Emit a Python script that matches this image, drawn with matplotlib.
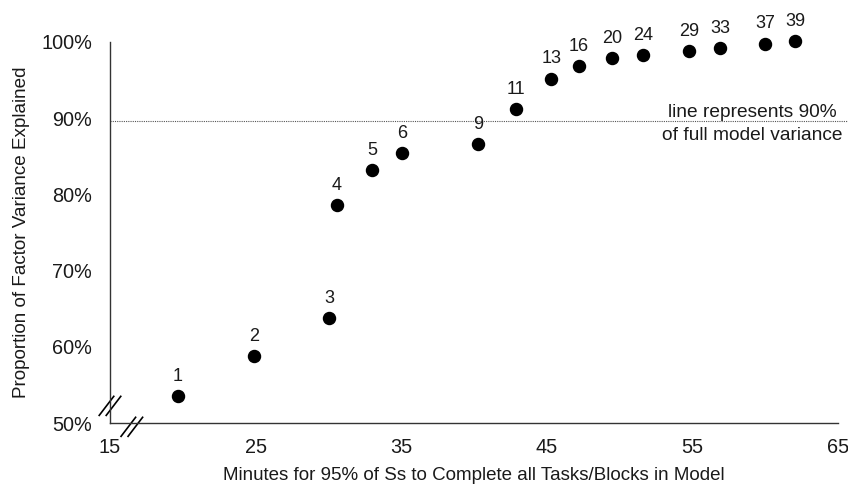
import matplotlib
matplotlib.use("Agg")
import matplotlib.pyplot as plt
import matplotlib.transforms as mtransforms
import numpy as np

plt.rcParams['font.family'] = ['Liberation Sans', 'DejaVu Sans']

# number of tasks/blocks in model (point labels)
n_blocks = [1, 2, 3, 4, 5, 6, 9, 11, 13, 16, 20, 24, 29, 33, 37, 39]
# minutes for 95% of Ss to complete
minutes = [19.67, 24.9, 30.06, 30.6, 33.0, 35.05, 40.3, 42.9, 45.3, 47.2,
           49.5, 51.6, 54.8, 56.9, 60.0, 62.05]
# proportion of factor variance explained (%)
variance = [53.5, 58.8, 63.8, 78.6, 83.2, 85.4, 86.6, 91.2, 95.2, 96.85,
            97.9, 98.3, 98.8, 99.2, 99.8, 100.1]

xticks = [15, 25, 35, 45, 55, 65]
yticks = [50, 60, 70, 80, 90, 100]
ref_line = 89.6

fig = plt.figure(figsize=(8.48, 4.86), dpi=100)
ax = fig.add_axes([0.1297, 0.1296, 0.8585, 0.7840])

ax.scatter(minutes, variance, s=75, color='black', zorder=3, clip_on=False)
for x, y, n in zip(minutes, variance, n_blocks):
    ax.annotate(str(n), (x, y), xytext=(0, 8), textcoords='offset points',
                ha='center', va='bottom', fontsize=13, color='#1a1a1a',
                annotation_clip=False)

# dotted reference line
ax.axhline(ref_line, xmin=0, xmax=1.013, color='#555555', lw=0.8,
           linestyle=(0, (1, 1)), clip_on=False, zorder=1)
ax.text(0.998, ref_line + 0.6, 'line represents 90%', ha='right', va='baseline',
        fontsize=13.8, color='#1a1a1a', transform=ax.get_yaxis_transform())
ax.text(1.006, ref_line - 2.4, 'of full model variance', ha='right', va='baseline',
        fontsize=13.8, color='#1a1a1a', transform=ax.get_yaxis_transform())

ax.set_xlim(15, 65)
ax.set_ylim(50, 100)
ax.set_xticks(xticks)
ax.set_yticks(yticks)
ax.set_yticklabels([f'{v}%' for v in yticks])
ax.tick_params(length=0, labelsize=14.3, colors='#1a1a1a')
ax.tick_params(axis='y', pad=13)
ax.tick_params(axis='x', pad=10.5)

for s in ['top', 'right']:
    ax.spines[s].set_visible(False)
for s in ['left', 'bottom']:
    ax.spines[s].set_color('#333333')
    ax.spines[s].set_linewidth(1.0)

ax.set_xlabel('Minutes for 95% of Ss to Complete all Tasks/Blocks in Model',
              fontsize=13.5, color='#1a1a1a', va='center')
ax.xaxis.set_label_coords(0.5, -0.1365)
ax.set_ylabel('Proportion of Factor Variance Explained',
              fontsize=13.6, color='#1a1a1a', va='center')
ax.yaxis.set_label_coords(-0.121, 0.5)

# axis break marks (//)
def break_mark(xa, ya):
    for dx in (-3.5, 3.5):
        off = mtransforms.ScaledTranslation(dx / 100, 0, fig.dpi_scale_trans)
        line = plt.Line2D([xa - 0.010, xa + 0.010], [ya - 0.025, ya + 0.025],
                          transform=ax.transAxes + off, color='black', lw=1.2,
                          clip_on=False)
        ax.add_line(line)

break_mark(0.0, 0.045)
break_mark(0.030, -0.010)

fig.savefig('out.png', dpi=100)
